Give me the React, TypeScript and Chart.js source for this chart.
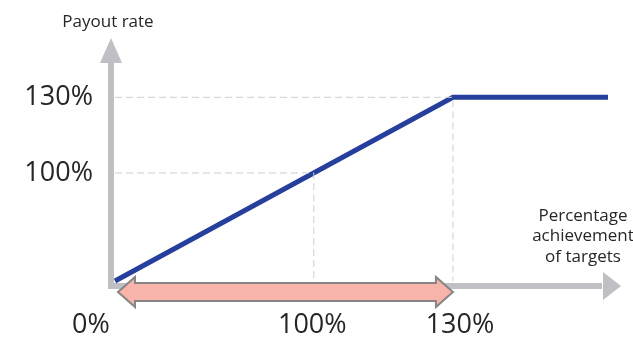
import React, { useEffect, useRef } from "react";
import { Chart, registerables } from "chart.js";

Chart.register(...registerables);

// Schematic units (the reference diagram is drawn schematically, not to scale)
const achievementPositions = [0, 170, 248];
const payoutPositions = [0, 170, 170];
const xTickPositions = [0, 100, 170];
const xTickLabels = ["0%", "100%", "130%"];
const yTickPositions = [100, 170];
const yTickLabels = ["100%", "130%"];
const dropLine100 = [
  { x: 0, y: 100 },
  { x: 100, y: 100 },
  { x: 100, y: 0 },
];
const dropLine130 = [
  { x: 0, y: 170 },
  { x: 170, y: 170 },
  { x: 170, y: 0 },
];
const arrowRange = [0, 170];
const yAxisTitle = "Payout rate";
const xAxisTitle = ["Percentage", "achievement", "of targets"];

const FONT = "'Open Sans', 'Noto Sans', sans-serif";

const diagramPlugin = {
  id: "diagram",
  beforeDatasetsDraw(chart: any) {
    const ctx = chart.ctx;
    const xs = chart.scales.x;
    const ys = chart.scales.y;
    const ox = xs.getPixelForValue(0) - 4;
    const oy = ys.getPixelForValue(0) + 5;
    ctx.save();
    ctx.fillStyle = "#bfc0c4";
    // y axis
    ctx.fillRect(ox - 3, 62, 6, oy - 62 + 3);
    ctx.beginPath();
    ctx.moveTo(ox, 38);
    ctx.lineTo(ox + 11, 63);
    ctx.lineTo(ox - 11, 63);
    ctx.closePath();
    ctx.fill();
    // x axis
    ctx.fillRect(ox - 3, oy - 3, 605 - ox, 6);
    ctx.beginPath();
    ctx.moveTo(621, oy);
    ctx.lineTo(603, oy - 14);
    ctx.lineTo(603, oy + 14);
    ctx.closePath();
    ctx.fill();
    ctx.restore();
  },
  afterDatasetsDraw(chart: any) {
    const ctx = chart.ctx;
    const xs = chart.scales.x;
    const ys = chart.scales.y;
    ctx.save();
    // double arrow
    const l = xs.getPixelForValue(arrowRange[0]) + 3;
    const r = xs.getPixelForValue(arrowRange[1]);
    const cy = ys.getPixelForValue(0) + 11;
    const hh = 15;
    const bh = 9;
    const hl = 17;
    ctx.beginPath();
    ctx.moveTo(l, cy);
    ctx.lineTo(l + hl, cy - hh);
    ctx.lineTo(l + hl, cy - bh);
    ctx.lineTo(r - hl, cy - bh);
    ctx.lineTo(r - hl, cy - hh);
    ctx.lineTo(r, cy);
    ctx.lineTo(r - hl, cy + hh);
    ctx.lineTo(r - hl, cy + bh);
    ctx.lineTo(l + hl, cy + bh);
    ctx.lineTo(l + hl, cy + hh);
    ctx.closePath();
    ctx.fillStyle = "#f8b4a8";
    ctx.fill();
    ctx.lineWidth = 2;
    ctx.strokeStyle = "#858585";
    ctx.lineJoin = "miter";
    ctx.stroke();

    ctx.fillStyle = "#262626";
    ctx.textBaseline = "middle";
    // y tick labels
    ctx.font = `27px ${FONT}`;
    ctx.textAlign = "right";
    yTickPositions.forEach((v, i) => {
      ctx.fillText(yTickLabels[i], 93, ys.getPixelForValue(v));
    });
    // x tick labels
    const xOffsets = [-24, -1.5, 7];
    ctx.textAlign = "center";
    xTickPositions.forEach((v, i) => {
      ctx.fillText(xTickLabels[i], xs.getPixelForValue(v) + xOffsets[i], 325);
    });
    // titles
    ctx.font = `17px ${FONT}`;
    ctx.fillText(yAxisTitle, 108, 22);
    xAxisTitle.forEach((t, i) => {
      ctx.fillText(t, 583, 216 + i * 20.5);
    });
    ctx.restore();
  },
};

export default function App() {
  const ref = useRef<HTMLCanvasElement>(null);
  useEffect(() => {
    if (!ref.current) return;
    const chart = new Chart(ref.current, {
      type: "line",
      data: {
        datasets: [
          {
            data: dropLine100,
            borderColor: "#cfcfd2",
            borderWidth: 1,
            borderDash: [7, 4],
            pointRadius: 0,
            fill: false,
          },
          {
            data: dropLine130,
            borderColor: "#cfcfd2",
            borderWidth: 1,
            borderDash: [7, 4],
            pointRadius: 0,
            fill: false,
          },
          {
            data: achievementPositions.map((x, i) => ({ x, y: payoutPositions[i] })),
            borderColor: "#263f9c",
            borderWidth: 5,
            pointRadius: 0,
            fill: false,
            clip: false as any,
            borderJoinStyle: "miter",
          },
        ],
      },
      options: {
        animation: false,
        responsive: true,
        maintainAspectRatio: false,
        layout: { padding: { left: 115, right: 25, top: 86.5, bottom: 59 } },
        plugins: { legend: { display: false }, tooltip: { enabled: false } },
        scales: {
          x: { type: "linear", min: 0, max: 248, display: false },
          y: { type: "linear", min: 0, max: 180, display: false },
        },
      },
      plugins: [diagramPlugin],
    });
    return () => chart.destroy();
  }, []);
  return (
    <div style={{ position: "fixed", left: 0, top: 0, width: 633, height: 340, background: "#fff" }}>
      <canvas ref={ref} />
    </div>
  );
}
